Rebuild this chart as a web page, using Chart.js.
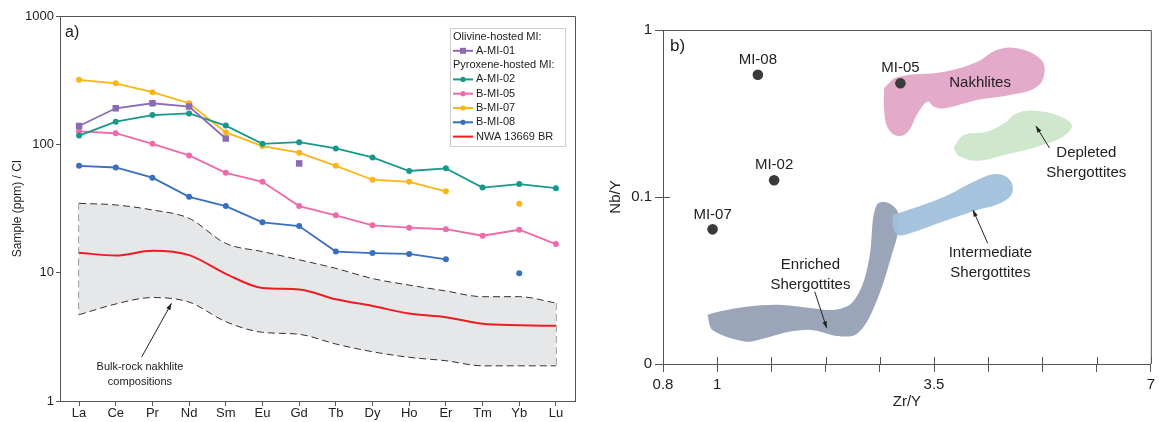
<!DOCTYPE html>
<html>
<head>
<meta charset="utf-8">
<script src="https://cdn.jsdelivr.net/npm/chart.js@4.4.1/dist/chart.umd.min.js"></script>
<style>
  body { margin: 0; background: #fff; }
  #wrap { position: relative; width: 1159px; height: 422px; }
  canvas { position: absolute; top: 0; }
  #chartA { left: 0; }
  #chartB { left: 590px; }
</style>
</head>
<body>
<div id="wrap">
  <canvas id="chartA" width="590" height="422"></canvas>
  <canvas id="chartB" width="569" height="422"></canvas>
</div>
<script>
// ---------- panel a) REE patterns (sample / CI) ----------
const elements = ['La', 'Ce', 'Pr', 'Nd', 'Sm', 'Eu', 'Gd', 'Tb', 'Dy', 'Ho', 'Er', 'Tm', 'Yb', 'Lu'];
const reeTicks = [1, 10, 100, 1000];

const aMi01 = [139, 191, 209, 197, 111, null, 71, null, null, null, null, null, null, null];
const aMi02 = [117, 150, 169, 174, 140, 101, 104, 93, 79, 62, 65, 46, 49, 45.5];
const bMi05 = [126, 122, 101, 82, 60, 51, 33, 28, 23.4, 22.4, 21.8, 19.4, 21.6, 16.7];
const bMi07 = [318, 299, 255, 209, 124, 97, 86, 68, 53, 51, 43, null, 34.5, null];
const bMi08 = [68, 66, 55, 39, 33, 24.7, 23.1, 14.6, 14.2, 14.0, 12.7, null, 9.9, null];
const nwa13669 = [14.3, 13.6, 14.8, 13.7, 9.8, 7.6, 7.4, 6.2, 5.5, 4.8, 4.5, 4.0, 3.9, 3.85];
// bulk-rock nakhlite envelope
const bandUpper = [34.7, 33.7, 30.8, 26.5, 16.9, 14.6, 12.6, 10.8, 9.0, 8.0, 7.2, 6.5, 6.5, 5.8];
const bandLower = [4.7, 5.7, 6.4, 5.9, 4.15, 3.43, 3.31, 2.78, 2.42, 2.19, 2.06, 1.88, 1.88, 1.88];

// ---------- panel b) Nb/Y vs Zr/Y ----------
const zrTickLabels = ['0.8', '1', '', '', '', '3.5', '', '', '', '7'];
const nbTickValues = [0.01, 0.1, 1];
const nbTickLabels = ['0', '0.1', '1'];

const miLabels = ['MI-08', 'MI-05', 'MI-02', 'MI-07'];
const miZr = [1.75, 4.38, 2.05, 0.915];
const miNb = [0.54, 0.48, 0.126, 0.064];

// field outlines (x in axis units, y = Nb/Y)
const nakhliteX = [4.08, 4.33, 5.19, 5.80, 6.16, 6.53, 6.95, 7.04, 6.90, 6.40, 5.80, 5.19, 5.00, 4.88, 4.70, 4.52, 4.33, 4.15, 4.08];
const nakhliteY = [0.45, 0.523, 0.563, 0.646, 0.759, 0.777, 0.677, 0.563, 0.458, 0.408, 0.381, 0.340, 0.347, 0.372, 0.317, 0.246, 0.232, 0.258, 0.332];
const depletedX = [5.36, 5.55, 5.98, 6.29, 6.53, 6.84, 7.26, 7.54, 7.38, 6.90, 6.29, 5.80, 5.46];
const depletedY = [0.1965, 0.235, 0.246, 0.276, 0.317, 0.329, 0.310, 0.270, 0.230, 0.200, 0.1785, 0.165, 0.176];
const intermedX = [4.24, 4.52, 5.19, 5.80, 6.16, 6.40, 6.44, 6.22, 5.80, 5.19, 4.57, 4.33, 4.24];
const intermedY = [0.078, 0.0836, 0.1004, 0.1264, 0.1373, 0.1264, 0.1052, 0.0917, 0.0836, 0.0718, 0.0609, 0.0592, 0.067];
const enrichedX = [0.82, 1.04, 1.53, 2.14, 2.75, 3.17, 3.48, 3.69, 3.82, 3.88, 3.97, 4.15, 4.33, 4.33, 4.21, 4.02, 3.78, 3.54, 3.23, 2.74, 2.32, 1.89, 1.53, 0.91];
const enrichedY = [0.0197, 0.0206, 0.0220, 0.0226, 0.0216, 0.0211, 0.0231, 0.0304, 0.0460, 0.0762, 0.0917, 0.0924, 0.0817, 0.0607, 0.0439, 0.0277, 0.0183, 0.0149, 0.0147, 0.0160, 0.0156, 0.0143, 0.0136, 0.0160];

const FONT = "'Liberation Sans', Arial, sans-serif";
const AXIS = '#555';
const TEXT = '#222';

const toPoints = (vals) => vals.map((v, i) => ({ x: i, y: v }));
const zipPoints = (xs, ys) => xs.map((x, i) => ({ x, y: ys[i] }));
const closed = (pts) => pts.concat([pts[0]]);

function arrow(ctx, x1, y1, x2, y2) {
  const a = Math.atan2(y2 - y1, x2 - x1);
  ctx.beginPath();
  ctx.moveTo(x1, y1);
  ctx.lineTo(x2, y2);
  ctx.stroke();
  ctx.beginPath();
  ctx.moveTo(x2, y2);
  ctx.lineTo(x2 - 7 * Math.cos(a - 0.33), y2 - 7 * Math.sin(a - 0.33));
  ctx.lineTo(x2 - 7 * Math.cos(a + 0.33), y2 - 7 * Math.sin(a + 0.33));
  ctx.closePath();
  ctx.fill();
}

// top + right border of the plot box
const framePlugin = {
  id: 'frame',
  afterDraw(chart) {
    const { ctx, chartArea: ca } = chart;
    ctx.save();
    ctx.strokeStyle = AXIS;
    ctx.lineWidth = 1;
    ctx.beginPath();
    ctx.moveTo(ca.left, ca.top + 0.5);
    ctx.lineTo(ca.right + 0.5, ca.top + 0.5);
    ctx.lineTo(ca.right + 0.5, ca.bottom);
    ctx.stroke();
    ctx.restore();
  }
};

const sample = (label, values, color, pointStyle) => ({
  label,
  data: toPoints(values),
  borderColor: color,
  backgroundColor: color,
  borderWidth: 1.8,
  pointStyle: pointStyle || 'circle',
  pointRadius: pointStyle === 'rect' ? 4.6 : 3,
  pointBorderWidth: 0,
  spanGaps: false,
  fill: false,
  tension: 0
});

const dashed = {
  borderColor: '#333',
  borderWidth: 1,
  borderDash: [7, 4],
  pointRadius: 0,
  cubicInterpolationMode: 'monotone'
};

const legendRows = [
  { header: 'Olivine-hosted MI:' }, { dataset: 0 },
  { header: 'Pyroxene-hosted MI:' }, { dataset: 1 }, { dataset: 2 }, { dataset: 3 }, { dataset: 4 }, { dataset: 5 }
];

const panelAPlugin = {
  id: 'panelA',
  afterDraw(chart) {
    const { ctx, chartArea: ca, scales } = chart;
    ctx.save();
    ctx.fillStyle = TEXT;
    ctx.font = '16px ' + FONT;
    ctx.textBaseline = 'middle';
    ctx.fillText('a)', ca.left + 5, ca.top + 17);

    // legend box
    const bx = ca.right - 125, by = ca.top + 12;
    ctx.strokeStyle = '#cfcfcf';
    ctx.lineWidth = 1;
    ctx.strokeRect(bx + 0.5, by + 0.5, 115, 118);
    ctx.font = '11px ' + FONT;
    legendRows.forEach((row, i) => {
      const y = by + 8.5 + i * 14.3;
      if (row.header) {
        ctx.fillStyle = TEXT;
        ctx.fillText(row.header, bx + 3, y);
        return;
      }
      const ds = chart.data.datasets[row.dataset];
      ctx.strokeStyle = ds.borderColor;
      ctx.lineWidth = 2;
      ctx.beginPath();
      ctx.moveTo(bx + 3, y);
      ctx.lineTo(bx + 23, y);
      ctx.stroke();
      if (ds.pointRadius > 0) {
        ctx.fillStyle = ds.backgroundColor;
        if (ds.pointStyle === 'rect') ctx.fillRect(bx + 10, y - 3, 6, 6);
        else { ctx.beginPath(); ctx.arc(bx + 13, y, 2.6, 0, Math.PI * 2); ctx.fill(); }
      }
      ctx.fillStyle = TEXT;
      ctx.fillText(ds.label, bx + 26, y);
    });

    // envelope annotation
    const x = scales.x, y = scales.y;
    ctx.font = '11px ' + FONT;
    ctx.textAlign = 'center';
    const tx = x.getPixelForValue(1.66), ty = y.getPixelForValue(1.61);
    ctx.fillText('Bulk-rock nakhlite', tx, ty - 7.5);
    ctx.fillText('compositions', tx, ty + 7.5);
    ctx.strokeStyle = '#222';
    ctx.fillStyle = '#222';
    ctx.lineWidth = 1;
    arrow(ctx, x.getPixelForValue(1.71), y.getPixelForValue(2.21), x.getPixelForValue(2.52), y.getPixelForValue(5.77));
    ctx.restore();
  }
};

new Chart(document.getElementById('chartA'), {
  type: 'line',
  data: {
    datasets: [
      sample('A-MI-01', aMi01, '#8c6bb4', 'rect'),
      sample('A-MI-02', aMi02, '#17998a'),
      sample('B-MI-05', bMi05, '#ef6aa8'),
      sample('B-MI-07', bMi07, '#fbb516'),
      sample('B-MI-08', bMi08, '#3a6fc0'),
      Object.assign(sample('NWA 13669 BR', nwa13669, '#ed1c24'), { pointRadius: 0, borderWidth: 2, cubicInterpolationMode: 'monotone' }),
      Object.assign({ label: 'upper', data: toPoints(bandUpper), fill: false }, dashed),
      Object.assign({ label: 'lower', data: toPoints(bandLower), fill: '-1', backgroundColor: '#e6e7e8' }, dashed),
      Object.assign({ label: 'edgeL', data: [{ x: 0, y: bandUpper[0] }, { x: 0, y: bandLower[0] }], fill: false }, dashed),
      Object.assign({ label: 'edgeR', data: [{ x: 13, y: bandUpper[13] }, { x: 13, y: bandLower[13] }], fill: false }, dashed)
    ]
  },
  options: {
    responsive: false,
    animation: false,
    layout: { padding: { left: 0, top: 16, right: 15, bottom: 0 } },
    plugins: { legend: { display: false }, tooltip: { enabled: false } },
    scales: {
      x: {
        type: 'linear',
        min: -0.52,
        max: 13.52,
        afterBuildTicks: (s) => { s.ticks = elements.map((_, i) => ({ value: i })); },
        ticks: { callback: (v) => elements[v], font: { family: FONT, size: 13 }, color: TEXT, padding: 0, autoSkip: false, maxRotation: 0 },
        grid: { drawOnChartArea: false, tickLength: 5, color: AXIS },
        border: { color: AXIS },
        afterFit: (s) => { s.height = 21; }
      },
      y: {
        type: 'logarithmic',
        min: 1,
        max: 1000,
        afterBuildTicks: (s) => { s.ticks = reeTicks.map((v) => ({ value: v })); },
        ticks: { callback: (v) => String(v), font: { family: FONT, size: 13 }, color: TEXT, padding: 2 },
        grid: { drawOnChartArea: false, tickLength: 4, color: AXIS },
        border: { color: AXIS },
        title: { display: true, text: 'Sample (ppm) / CI', font: { family: FONT, size: 12 }, color: TEXT, padding: { top: 10 } },
        afterFit: (s) => { s.width = 60; }
      }
    }
  },
  plugins: [framePlugin, panelAPlugin]
});

// ---------- panel b ----------
const panelBPlugin = {
  id: 'panelB',
  afterDraw(chart) {
    const { ctx, chartArea: ca, scales } = chart;
    const x = scales.x, y = scales.y;
    ctx.save();
    // inner half of the crossing ticks
    ctx.strokeStyle = AXIS;
    ctx.lineWidth = 1;
    ctx.beginPath();
    x.ticks.forEach((t) => {
      const px = Math.round(x.getPixelForValue(t.value)) + 0.5;
      ctx.moveTo(px, ca.bottom);
      ctx.lineTo(px, ca.bottom - 7);
    });
    y.ticks.forEach((t) => {
      const py = Math.round(y.getPixelForValue(t.value)) + 0.5;
      ctx.moveTo(ca.left, py);
      ctx.lineTo(ca.left + 7, py);
    });
    ctx.stroke();

    ctx.fillStyle = TEXT;
    ctx.textBaseline = 'middle';
    ctx.font = '17px ' + FONT;
    ctx.fillText('b)', ca.left + 7, ca.top + 16);

    // point labels
    ctx.font = '15px ' + FONT;
    ctx.textAlign = 'center';
    chart.getDatasetMeta(0).data.forEach((p, i) => {
      ctx.fillText(miLabels[i], p.x, p.y - 15);
    });

    // field labels
    const px = (v) => x.getPixelForValue(v), py = (v) => y.getPixelForValue(v);
    ctx.fillText('Nakhlites', px(5.85), py(0.48));
    ctx.fillText('Depleted', px(7.81), py(0.1605) - 10);
    ctx.fillText('Shergottites', px(7.81), py(0.1605) + 10);
    ctx.fillText('Intermediate', px(6.04), py(0.0404) - 10);
    ctx.fillText('Shergottites', px(6.04), py(0.0404) + 10);
    ctx.fillText('Enriched', px(2.72), py(0.0344) - 10);
    ctx.fillText('Shergottites', px(2.72), py(0.0344) + 10);

    ctx.strokeStyle = '#222';
    ctx.fillStyle = '#222';
    arrow(ctx, px(7.13), py(0.1965), px(6.88), py(0.266));
    arrow(ctx, px(5.99), py(0.0528), px(5.72), py(0.0836));
    arrow(ctx, px(2.80), py(0.0271), px(3.02), py(0.0164));
    ctx.restore();
  }
};

const field = (label, xs, ys, color, tension) => ({
  type: 'line',
  label,
  data: closed(zipPoints(xs, ys)),
  showLine: true,
  borderWidth: 0,
  borderColor: color,
  backgroundColor: color,
  pointRadius: 0,
  tension: tension || 0.4,
  fill: 'shape'
});

new Chart(document.getElementById('chartB'), {
  type: 'scatter',
  data: {
    datasets: [
      {
        label: 'melt inclusions',
        data: zipPoints(miZr, miNb),
        backgroundColor: '#3a3a3a',
        pointRadius: 5.3,
        pointBorderWidth: 0
      },
      field('Intermediate Shergottites', intermedX, intermedY, 'rgba(160,192,218,0.95)'),
      field('Enriched Shergottites', enrichedX, enrichedY, '#9aa5b9', 0.3),
      field('Nakhlites', nakhliteX, nakhliteY, '#e3aac9'),
      field('Depleted Shergottites', depletedX, depletedY, '#cfe7cd')
    ]
  },
  options: {
    responsive: false,
    animation: false,
    layout: { padding: { left: 0, top: 30, right: 4, bottom: 0 } },
    plugins: { legend: { display: false }, tooltip: { enabled: false } },
    scales: {
      x: {
        type: 'linear',
        min: 0,
        max: 9,
        afterBuildTicks: (s) => { s.ticks = zrTickLabels.map((_, i) => ({ value: i })); },
        ticks: { callback: (v) => zrTickLabels[v], font: { family: FONT, size: 15 }, color: TEXT, padding: 4, autoSkip: false, maxRotation: 0 },
        grid: { drawOnChartArea: false, tickLength: 8, color: AXIS },
        border: { color: AXIS },
        title: { display: true, text: 'Zr/Y', font: { family: FONT, size: 15 }, color: TEXT, padding: { bottom: 11 } },
        afterFit: (s) => { s.height = 58; }
      },
      y: {
        type: 'logarithmic',
        min: 0.01,
        max: 1,
        afterBuildTicks: (s) => { s.ticks = nbTickValues.map((v) => ({ value: v })); },
        ticks: { callback: (v, i) => nbTickLabels[i], font: { family: FONT, size: 15 }, color: TEXT, padding: 3 },
        grid: { drawOnChartArea: false, tickLength: 8, color: AXIS },
        border: { color: AXIS },
        title: { display: true, text: 'Nb/Y', font: { family: FONT, size: 15 }, color: TEXT, padding: { top: 17 } },
        afterFit: (s) => { s.width = 73; }
      }
    }
  },
  plugins: [framePlugin, panelBPlugin]
});
</script>
</body>
</html>
